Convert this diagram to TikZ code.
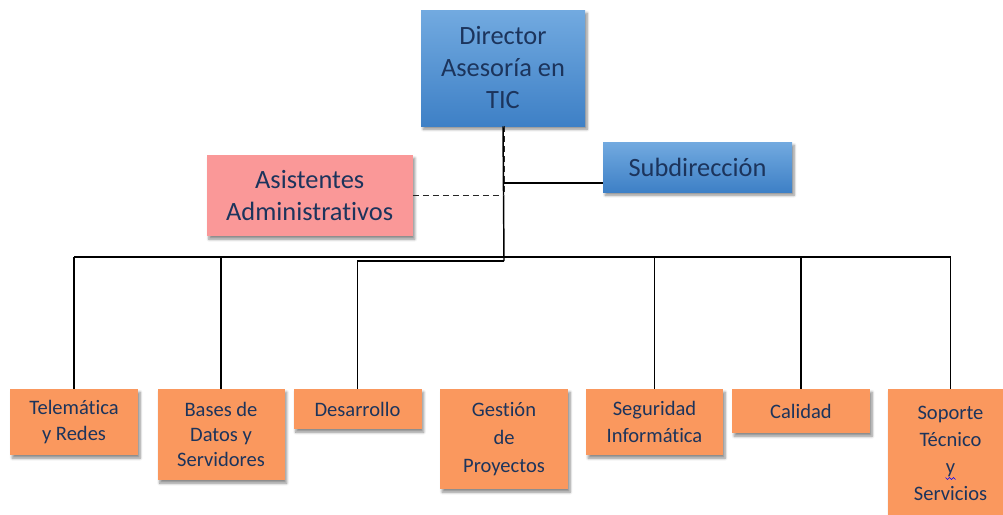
\documentclass[tikz,border=0pt]{standalone}
\usepackage{fontspec}
\setmainfont{Carlito}[Ligatures=NoCommon]
\usetikzlibrary{shadows.blur}

\definecolor{ink}{RGB}{28,52,92}
\definecolor{blueTop}{RGB}{114,170,224}
\definecolor{blueBot}{RGB}{62,128,198}
\definecolor{pinkBox}{RGB}{250,152,152}
\definecolor{orangeBox}{RGB}{250,152,94}

\tikzset{
  box/.style={rectangle, inner sep=0pt, align=center, text=ink,
    blur shadow={shadow xshift=1.6pt, shadow yshift=-2.4pt,
                 shadow blur steps=6, shadow opacity=45}},
  headbox/.style={box, top color=blueTop, bottom color=blueBot,
    font=\fontsize{19.8}{24}\selectfont},
  staffbox/.style={box, fill=pinkBox, font=\fontsize{19.8}{24}\selectfont},
  unitbox/.style={box, fill=orangeBox, font=\fontsize{15.4}{20}\selectfont},
  link/.style={draw=black, line width=1.1pt},
  dotlink/.style={draw=black!85, line width=1pt, dash pattern=on 4.5pt off 3pt},
}

\begin{document}
\begin{tikzpicture}[x=0.75pt,y=-0.75pt]
  \useasboundingbox (0,0) rectangle (1003,514);

  % top level
  \node[headbox, minimum width=123pt, minimum height=87pt] (dir) at (503,68)
    {Director\\Asesoría en\\TIC};
  \node[headbox, minimum width=141.75pt, minimum height=37.5pt] (sub) at (697.5,167)
    {Subdirección};
  \node[staffbox, minimum width=154.5pt, minimum height=60.75pt] (asi) at (309.7,195.5)
    {Asistentes\\Administrativos};

  % units
  \node[unitbox, minimum width=96pt, minimum height=49.5pt] (tel) at (74,422)
    {Telemática\\y Redes};
  \node[unitbox, minimum width=95.25pt, minimum height=68.25pt,
        font=\fontsize{15.4}{18.5}\selectfont] (bas) at (221,434.5)
    {Bases de\\Datos y\\Servidores};
  \node[unitbox, minimum width=96pt, minimum height=30pt] (des) at (357.5,409)
    {Desarrollo};
  \node[unitbox, minimum width=96pt, minimum height=75pt,
        font=\fontsize{15.4}{21}\selectfont] (ges) at (504,439)
    {Gestión\\de\\Proyectos};
  \node[unitbox, minimum width=102.75pt, minimum height=49.5pt] (seg) at (654.5,422)
    {Seguridad\\Informática};
  \node[unitbox, minimum width=103.5pt, minimum height=33pt] (cal) at (801,411)
    {Calidad};
  \node[unitbox, minimum width=94.5pt, minimum height=96.75pt,
        font=\fontsize{15.4}{20.2}\selectfont] (sop) at (950.5,453.5)
    {Soporte\\Técnico\\y\\Servicios};

  % spell-check squiggle under the lone "y"
  \draw[blue, line width=0.5pt]
    ([shift={(-5,24)}]sop.center) -- ([shift={(-3,26)}]sop.center)
    -- ([shift={(-1,24)}]sop.center) -- ([shift={(1,26)}]sop.center)
    -- ([shift={(3,24)}]sop.center) -- ([shift={(5,26)}]sop.center);

  % junction points on the trunk
  \coordinate (jsub) at (504,183);
  \coordinate (hub)  at (504,257);
  \coordinate (hub2) at (504,261);

  % trunk and staff links
  \draw[link] (dir.south) -- (hub2);
  \draw[dotlink] ([xshift=1.2pt]dir.south) -- ([xshift=1.2pt]dir.south |- asi.east);
  \draw[link] (jsub) -- (jsub -| sub.west);
  \draw[dotlink] (asi.east) -- (asi.east -| dir.south);

  % distribution bus
  \draw[link] (tel.north |- hub) -- (sop.north |- hub);
  \foreach \u in {tel,bas,seg,cal,sop}
    \draw[link] (\u.north |- hub) -- (\u.north);
  \draw[link] (hub2) -- (des.north |- hub2) -- (des.north);
\end{tikzpicture}
\end{document}
